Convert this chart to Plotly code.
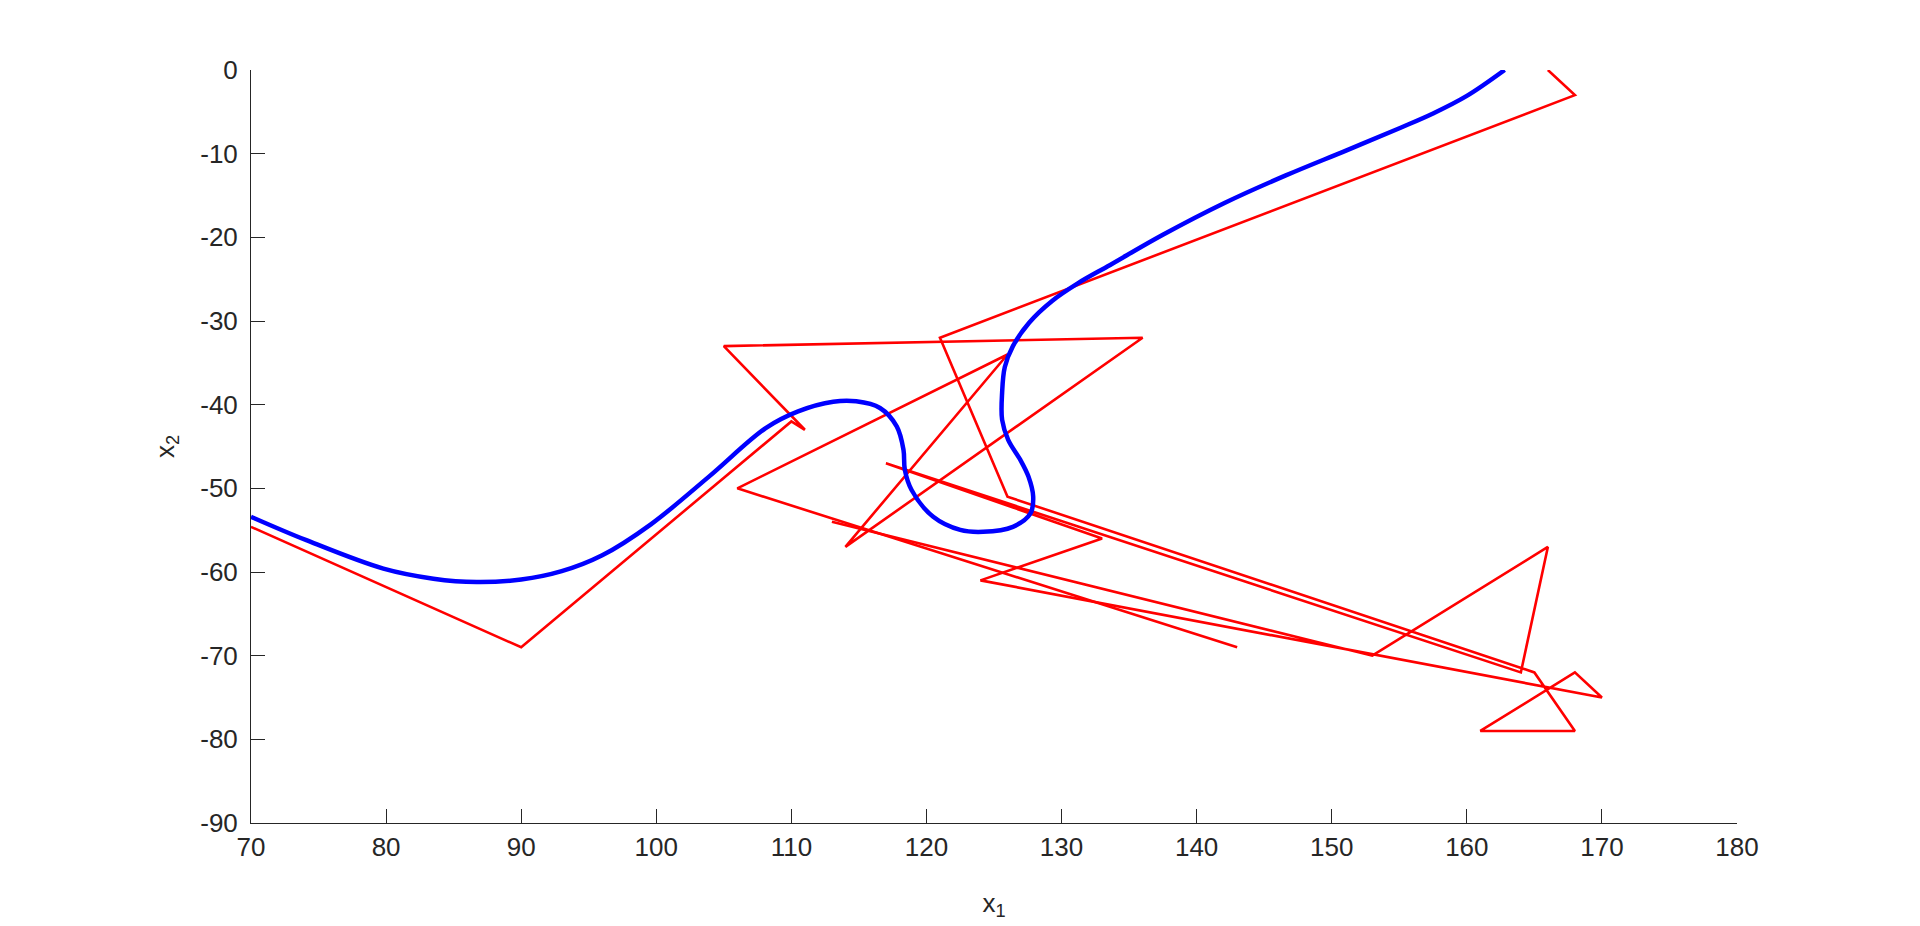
import plotly.graph_objects as go

# Blue trajectory (x1, x2)
blue_x = [70.0, 74.1, 79.8, 83.5, 86.7, 90.0, 93.0, 96.0, 99.6, 103.9, 108.1, 110.5, 113.1, 114.8,
          116.56, 117.8, 118.3, 118.4, 118.9, 120.5, 122.5, 124.2, 126.4, 127.7, 127.9, 127.55,
          126.95, 126.05, 125.6, 125.6, 125.8, 126.4, 127.6, 129.3, 131.2, 133.6, 137.5, 142.06, 146.6,
          151.1, 155.1, 157.5, 160.0, 162.8]
blue_y = [-53.4, -56.2, -59.6, -60.8, -61.2, -60.9, -59.9, -58.0, -54.3, -48.6, -42.8, -40.8,
          -39.65, -39.6, -40.4, -42.6, -45.4, -47.8, -50.2, -53.4, -54.97, -55.2, -54.6, -53.0,
          -51.0, -48.6, -46.6, -44.2, -41.8, -38.6, -35.5, -33.0, -30.2, -27.6, -25.5, -23.3, -19.7,
          -15.9, -12.6, -9.6, -6.9, -5.2, -3.1, 0.0]

# Red measured path (None separates the two pieces)
red_x = [70.0, 90, 110, 111, 105, 136, 114, 126, 106, 143, None,
         113, 153, 166, 164, 117, 133, 124, 170, 168, 161, 168, 165, 126, 121, 168, 166]
red_y = [-54.6, -69, -42, -43, -33, -32, -57, -34, -50, -69, None,
         -54, -70, -57, -72, -47, -56, -61, -75, -72, -79, -79, -72, -51, -32, -3, 0]

x_ticks = [70, 80, 90, 100, 110, 120, 130, 140, 150, 160, 170, 180]
y_ticks = [0, -10, -20, -30, -40, -50, -60, -70, -80, -90]

axis_color = "#262626"
font_family = "Liberation Sans, Arial, sans-serif"

fig = go.Figure()
fig.add_trace(go.Scatter(x=red_x, y=red_y, mode="lines",
                         line=dict(color="rgb(255,0,0)", width=2.6),
                         connectgaps=False, showlegend=False, hoverinfo="skip"))
fig.add_trace(go.Scatter(x=blue_x, y=blue_y, mode="lines",
                         line=dict(color="rgb(0,0,255)", width=4.5, shape="spline", smoothing=1.0),
                         showlegend=False, hoverinfo="skip"))

fig.update_layout(
    width=1920, height=926,
    margin=dict(l=243, r=191, t=62, b=111, autoexpand=False),
    paper_bgcolor="white", plot_bgcolor="white",
    font=dict(family=font_family, size=26, color=axis_color),
)
fig.update_xaxes(
    range=[70, 180], tickvals=x_ticks, ticktext=[str(v) for v in x_ticks],
    showgrid=False, zeroline=False, showline=True, linecolor=axis_color, linewidth=1,
    ticks="inside", ticklen=14, tickcolor=axis_color, tickwidth=1,
    tickfont=dict(size=26, color=axis_color), ticklabelstandoff=1,
    title=dict(text="x<sub>1</sub>", font=dict(size=26, color=axis_color), standoff=32),
    automargin=False,
)
fig.update_yaxes(
    range=[-90, 0], tickvals=y_ticks, ticktext=[str(v) for v in y_ticks],
    showgrid=False, zeroline=False, showline=True, linecolor=axis_color, linewidth=1,
    ticks="inside", ticklen=14, tickcolor=axis_color, tickwidth=1,
    tickfont=dict(size=26, color=axis_color), ticklabelstandoff=7,
    title=dict(text="x<sub>2</sub>", font=dict(size=26, color=axis_color), standoff=18),
    automargin=False,
)

fig.write_html("out.html")
